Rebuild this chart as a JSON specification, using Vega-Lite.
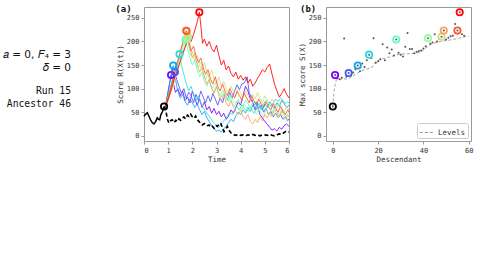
{
"$schema": "https://vega.github.io/schema/vega-lite/v6.json",
"padding": {"left": 2, "top": 4, "right": 2, "bottom": 2},
"background": "white",
"config": {
  "font": "DejaVu Sans Mono",
  "view": {"stroke": "#9a9a9a", "strokeWidth": 1},
  "axis": {"domain": false, "grid": false, "tickColor": "#9a9a9a", "tickSize": 3, "labelFont": "DejaVu Sans Mono", "labelFontSize": 7, "labelColor": "#333", "labelPadding": 2, "labelOverlap": false, "titleFont": "DejaVu Sans Mono", "titleFontSize": 7.5, "titleFontWeight": "normal", "titleColor": "#333", "titlePadding": 2}
},
"datasets": {
  "info": [
    {"block": 1, "text": ["𝑎 = 0, 𝐹₄ = 3", "𝛿 = 0"]},
    {"block": 2, "text": ["Run 15", "Ancestor 46"]}
  ],
  "labA": [{"text": "(a)"}],
  "labB": [{"text": "(b)"}],
  "anc": [
    {"seg":"solid","t":0,"v":41},{"seg":"solid","t":0.05,"v":45},{"seg":"solid","t":0.14,"v":49},{"seg":"solid","t":0.2,"v":42},{"seg":"solid","t":0.27,"v":34},{"seg":"solid","t":0.34,"v":28},{"seg":"solid","t":0.41,"v":25},{"seg":"solid","t":0.48,"v":30},{"seg":"solid","t":0.55,"v":38},{"seg":"solid","t":0.6,"v":35},{"seg":"solid","t":0.65,"v":34},{"seg":"solid","t":0.7,"v":45},{"seg":"solid","t":0.77,"v":52},{"seg":"solid","t":0.83,"v":62},
    {"seg":"dash","t":0.83,"v":62},{"seg":"dash","t":0.9,"v":55},{"seg":"dash","t":0.97,"v":35},{"seg":"dash","t":1.03,"v":27},{"seg":"dash","t":1.1,"v":32},{"seg":"dash","t":1.17,"v":34},{"seg":"dash","t":1.25,"v":28},{"seg":"dash","t":1.32,"v":33},{"seg":"dash","t":1.38,"v":30},{"seg":"dash","t":1.45,"v":36},{"seg":"dash","t":1.52,"v":33},{"seg":"dash","t":1.58,"v":37},{"seg":"dash","t":1.65,"v":40},{"seg":"dash","t":1.72,"v":36},{"seg":"dash","t":1.8,"v":44},{"seg":"dash","t":1.86,"v":41},{"seg":"dash","t":1.93,"v":46},{"seg":"dash","t":2.0,"v":40},{"seg":"dash","t":2.07,"v":37},{"seg":"dash","t":2.14,"v":42},{"seg":"dash","t":2.21,"v":34},{"seg":"dash","t":2.28,"v":30},{"seg":"dash","t":2.35,"v":26},{"seg":"dash","t":2.41,"v":23},{"seg":"dash","t":2.5,"v":26},{"seg":"dash","t":2.6,"v":21},{"seg":"dash","t":2.69,"v":23},{"seg":"dash","t":2.76,"v":18},{"seg":"dash","t":2.83,"v":20},{"seg":"dash","t":2.9,"v":16},{"seg":"dash","t":2.97,"v":22},{"seg":"dash","t":3.03,"v":20},{"seg":"dash","t":3.1,"v":24},{"seg":"dash","t":3.17,"v":27},{"seg":"dash","t":3.24,"v":18},{"seg":"dash","t":3.31,"v":9},{"seg":"dash","t":3.38,"v":14},{"seg":"dash","t":3.45,"v":20},{"seg":"dash","t":3.52,"v":12},{"seg":"dash","t":3.6,"v":6},{"seg":"dash","t":3.66,"v":4},{"seg":"dash","t":3.72,"v":2},{"seg":"dash","t":3.8,"v":1},{"seg":"dash","t":3.9,"v":3},{"seg":"dash","t":4.0,"v":1},{"seg":"dash","t":4.1,"v":2},{"seg":"dash","t":4.2,"v":0},{"seg":"dash","t":4.3,"v":2},{"seg":"dash","t":4.4,"v":1},{"seg":"dash","t":4.5,"v":3},{"seg":"dash","t":4.6,"v":1},{"seg":"dash","t":4.7,"v":2},{"seg":"dash","t":4.8,"v":0},{"seg":"dash","t":4.9,"v":2},{"seg":"dash","t":5.0,"v":2},{"seg":"dash","t":5.1,"v":1},{"seg":"dash","t":5.2,"v":3},{"seg":"dash","t":5.3,"v":1},{"seg":"dash","t":5.4,"v":0},{"seg":"dash","t":5.5,"v":2},{"seg":"dash","t":5.6,"v":4},{"seg":"dash","t":5.7,"v":3},{"seg":"dash","t":5.8,"v":7},{"seg":"dash","t":5.86,"v":9},{"seg":"dash","t":5.93,"v":7},{"seg":"dash","t":6.0,"v":8}
  ],
  "traj": [
    {"s":"c0","t":0.85,"v":58},{"s":"c0","t":0.92,"v":72},{"s":"c0","t":1.0,"v":95},{"s":"c0","t":1.06,"v":112},{"s":"c0","t":1.12,"v":129},{"s":"c0","t":1.2,"v":115},{"s":"c0","t":1.3,"v":92},{"s":"c0","t":1.4,"v":100},{"s":"c0","t":1.5,"v":85},{"s":"c0","t":1.6,"v":95},{"s":"c0","t":1.7,"v":75},{"s":"c0","t":1.8,"v":82},{"s":"c0","t":1.9,"v":70},{"s":"c0","t":2.0,"v":95},{"s":"c0","t":2.1,"v":80},{"s":"c0","t":2.2,"v":65},{"s":"c0","t":2.3,"v":78},{"s":"c0","t":2.4,"v":60},{"s":"c0","t":2.5,"v":72},{"s":"c0","t":2.6,"v":55},{"s":"c0","t":2.7,"v":62},{"s":"c0","t":2.8,"v":48},{"s":"c0","t":2.9,"v":58},{"s":"c0","t":3.0,"v":45},{"s":"c0","t":3.1,"v":52},{"s":"c0","t":3.2,"v":40},{"s":"c0","t":3.3,"v":48},{"s":"c0","t":3.4,"v":35},{"s":"c0","t":3.5,"v":42},{"s":"c0","t":3.6,"v":55},{"s":"c0","t":3.7,"v":48},{"s":"c0","t":3.8,"v":60},{"s":"c0","t":3.9,"v":72},{"s":"c0","t":4.0,"v":65},{"s":"c0","t":4.1,"v":85},{"s":"c0","t":4.2,"v":105},{"s":"c0","t":4.3,"v":95},{"s":"c0","t":4.4,"v":78},{"s":"c0","t":4.5,"v":70},{"s":"c0","t":4.6,"v":55},{"s":"c0","t":4.7,"v":62},{"s":"c0","t":4.8,"v":45},{"s":"c0","t":4.9,"v":38},{"s":"c0","t":5.0,"v":30},{"s":"c0","t":5.1,"v":25},{"s":"c0","t":5.2,"v":18},{"s":"c0","t":5.3,"v":12},{"s":"c0","t":5.4,"v":15},{"s":"c0","t":5.5,"v":10},{"s":"c0","t":5.6,"v":18},{"s":"c0","t":5.7,"v":14},{"s":"c0","t":5.8,"v":22},{"s":"c0","t":5.9,"v":25},{"s":"c0","t":6.0,"v":20},
    {"s":"c1","t":0.85,"v":58},{"s":"c1","t":0.95,"v":70},{"s":"c1","t":1.05,"v":88},{"s":"c1","t":1.12,"v":105},{"s":"c1","t":1.2,"v":122},{"s":"c1","t":1.28,"v":135},{"s":"c1","t":1.35,"v":120},{"s":"c1","t":1.45,"v":105},{"s":"c1","t":1.55,"v":90},{"s":"c1","t":1.65,"v":100},{"s":"c1","t":1.75,"v":80},{"s":"c1","t":1.85,"v":92},{"s":"c1","t":1.95,"v":85},{"s":"c1","t":2.05,"v":70},{"s":"c1","t":2.15,"v":88},{"s":"c1","t":2.25,"v":75},{"s":"c1","t":2.35,"v":95},{"s":"c1","t":2.45,"v":82},{"s":"c1","t":2.55,"v":70},{"s":"c1","t":2.65,"v":85},{"s":"c1","t":2.75,"v":72},{"s":"c1","t":2.85,"v":90},{"s":"c1","t":2.95,"v":78},{"s":"c1","t":3.05,"v":65},{"s":"c1","t":3.15,"v":80},{"s":"c1","t":3.25,"v":70},{"s":"c1","t":3.35,"v":88},{"s":"c1","t":3.45,"v":75},{"s":"c1","t":3.55,"v":92},{"s":"c1","t":3.65,"v":80},{"s":"c1","t":3.75,"v":95},{"s":"c1","t":3.85,"v":108},{"s":"c1","t":3.95,"v":98},{"s":"c1","t":4.05,"v":110},{"s":"c1","t":4.15,"v":112},{"s":"c1","t":4.27,"v":125},{"s":"c1","t":4.35,"v":92},{"s":"c1","t":4.45,"v":80},{"s":"c1","t":4.55,"v":65},{"s":"c1","t":4.65,"v":72},{"s":"c1","t":4.75,"v":58},{"s":"c1","t":4.85,"v":65},{"s":"c1","t":4.95,"v":50},{"s":"c1","t":5.05,"v":58},{"s":"c1","t":5.15,"v":45},{"s":"c1","t":5.25,"v":52},{"s":"c1","t":5.35,"v":40},{"s":"c1","t":5.45,"v":48},{"s":"c1","t":5.55,"v":38},{"s":"c1","t":5.65,"v":45},{"s":"c1","t":5.75,"v":35},{"s":"c1","t":5.85,"v":40},{"s":"c1","t":5.95,"v":32},{"s":"c1","t":6.0,"v":36},
    {"s":"c2","t":0.85,"v":58},{"s":"c2","t":0.95,"v":78},{"s":"c2","t":1.03,"v":100},{"s":"c2","t":1.1,"v":125},{"s":"c2","t":1.16,"v":138},{"s":"c2","t":1.21,"v":149},{"s":"c2","t":1.3,"v":120},{"s":"c2","t":1.4,"v":95},{"s":"c2","t":1.5,"v":80},{"s":"c2","t":1.6,"v":88},{"s":"c2","t":1.7,"v":72},{"s":"c2","t":1.8,"v":65},{"s":"c2","t":1.9,"v":78},{"s":"c2","t":2.0,"v":70},{"s":"c2","t":2.1,"v":60},{"s":"c2","t":2.2,"v":68},{"s":"c2","t":2.3,"v":55},{"s":"c2","t":2.4,"v":45},{"s":"c2","t":2.5,"v":52},{"s":"c2","t":2.6,"v":38},{"s":"c2","t":2.7,"v":30},{"s":"c2","t":2.8,"v":22},{"s":"c2","t":2.9,"v":15},{"s":"c2","t":3.0,"v":10},{"s":"c2","t":3.1,"v":12},{"s":"c2","t":3.2,"v":8},{"s":"c2","t":3.3,"v":15},{"s":"c2","t":3.4,"v":20},{"s":"c2","t":3.5,"v":28},{"s":"c2","t":3.6,"v":35},{"s":"c2","t":3.7,"v":30},{"s":"c2","t":3.8,"v":42},{"s":"c2","t":3.9,"v":50},{"s":"c2","t":4.0,"v":45},{"s":"c2","t":4.1,"v":55},{"s":"c2","t":4.2,"v":48},{"s":"c2","t":4.3,"v":60},{"s":"c2","t":4.4,"v":52},{"s":"c2","t":4.5,"v":65},{"s":"c2","t":4.6,"v":58},{"s":"c2","t":4.7,"v":70},{"s":"c2","t":4.8,"v":62},{"s":"c2","t":4.9,"v":55},{"s":"c2","t":5.0,"v":68},{"s":"c2","t":5.1,"v":60},{"s":"c2","t":5.2,"v":72},{"s":"c2","t":5.3,"v":65},{"s":"c2","t":5.4,"v":58},{"s":"c2","t":5.5,"v":70},{"s":"c2","t":5.6,"v":62},{"s":"c2","t":5.7,"v":75},{"s":"c2","t":5.8,"v":68},{"s":"c2","t":5.9,"v":60},{"s":"c2","t":6.0,"v":65},
    {"s":"c3","t":0.85,"v":58},{"s":"c3","t":0.95,"v":72},{"s":"c3","t":1.05,"v":95},{"s":"c3","t":1.15,"v":115},{"s":"c3","t":1.25,"v":135},{"s":"c3","t":1.32,"v":150},{"s":"c3","t":1.4,"v":160},{"s":"c3","t":1.47,"v":173},{"s":"c3","t":1.55,"v":150},{"s":"c3","t":1.65,"v":130},{"s":"c3","t":1.75,"v":110},{"s":"c3","t":1.85,"v":95},{"s":"c3","t":1.95,"v":105},{"s":"c3","t":2.05,"v":88},{"s":"c3","t":2.15,"v":75},{"s":"c3","t":2.25,"v":85},{"s":"c3","t":2.35,"v":70},{"s":"c3","t":2.45,"v":60},{"s":"c3","t":2.55,"v":52},{"s":"c3","t":2.65,"v":45},{"s":"c3","t":2.75,"v":38},{"s":"c3","t":2.85,"v":30},{"s":"c3","t":2.95,"v":25},{"s":"c3","t":3.05,"v":18},{"s":"c3","t":3.15,"v":20},{"s":"c3","t":3.25,"v":28},{"s":"c3","t":3.35,"v":35},{"s":"c3","t":3.45,"v":42},{"s":"c3","t":3.55,"v":50},{"s":"c3","t":3.65,"v":45},{"s":"c3","t":3.75,"v":55},{"s":"c3","t":3.85,"v":62},{"s":"c3","t":3.95,"v":55},{"s":"c3","t":4.05,"v":65},{"s":"c3","t":4.15,"v":58},{"s":"c3","t":4.25,"v":52},{"s":"c3","t":4.35,"v":60},{"s":"c3","t":4.45,"v":55},{"s":"c3","t":4.55,"v":48},{"s":"c3","t":4.65,"v":55},{"s":"c3","t":4.75,"v":62},{"s":"c3","t":4.85,"v":55},{"s":"c3","t":4.95,"v":68},{"s":"c3","t":5.05,"v":75},{"s":"c3","t":5.15,"v":70},{"s":"c3","t":5.25,"v":62},{"s":"c3","t":5.35,"v":70},{"s":"c3","t":5.45,"v":78},{"s":"c3","t":5.55,"v":72},{"s":"c3","t":5.65,"v":80},{"s":"c3","t":5.75,"v":75},{"s":"c3","t":5.85,"v":68},{"s":"c3","t":5.95,"v":72},{"s":"c3","t":6.0,"v":70},
    {"s":"c4","t":0.85,"v":58},{"s":"c4","t":0.95,"v":70},{"s":"c4","t":1.05,"v":88},{"s":"c4","t":1.15,"v":105},{"s":"c4","t":1.25,"v":120},{"s":"c4","t":1.35,"v":140},{"s":"c4","t":1.45,"v":158},{"s":"c4","t":1.55,"v":175},{"s":"c4","t":1.62,"v":190},{"s":"c4","t":1.72,"v":204},{"s":"c4","t":1.8,"v":185},{"s":"c4","t":1.9,"v":165},{"s":"c4","t":2.0,"v":150},{"s":"c4","t":2.1,"v":160},{"s":"c4","t":2.2,"v":140},{"s":"c4","t":2.3,"v":125},{"s":"c4","t":2.4,"v":135},{"s":"c4","t":2.5,"v":115},{"s":"c4","t":2.6,"v":105},{"s":"c4","t":2.7,"v":118},{"s":"c4","t":2.8,"v":100},{"s":"c4","t":2.9,"v":92},{"s":"c4","t":3.0,"v":105},{"s":"c4","t":3.1,"v":90},{"s":"c4","t":3.2,"v":82},{"s":"c4","t":3.3,"v":95},{"s":"c4","t":3.4,"v":80},{"s":"c4","t":3.5,"v":72},{"s":"c4","t":3.6,"v":85},{"s":"c4","t":3.7,"v":75},{"s":"c4","t":3.8,"v":68},{"s":"c4","t":3.9,"v":78},{"s":"c4","t":4.0,"v":70},{"s":"c4","t":4.1,"v":62},{"s":"c4","t":4.2,"v":75},{"s":"c4","t":4.3,"v":68},{"s":"c4","t":4.4,"v":60},{"s":"c4","t":4.5,"v":72},{"s":"c4","t":4.6,"v":65},{"s":"c4","t":4.7,"v":58},{"s":"c4","t":4.8,"v":70},{"s":"c4","t":4.9,"v":62},{"s":"c4","t":5.0,"v":55},{"s":"c4","t":5.1,"v":65},{"s":"c4","t":5.2,"v":58},{"s":"c4","t":5.3,"v":50},{"s":"c4","t":5.4,"v":60},{"s":"c4","t":5.5,"v":52},{"s":"c4","t":5.6,"v":45},{"s":"c4","t":5.7,"v":55},{"s":"c4","t":5.8,"v":48},{"s":"c4","t":5.9,"v":42},{"s":"c4","t":6.0,"v":50},
    {"s":"c5","t":0.85,"v":58},{"s":"c5","t":0.95,"v":68},{"s":"c5","t":1.05,"v":85},{"s":"c5","t":1.15,"v":100},{"s":"c5","t":1.25,"v":118},{"s":"c5","t":1.35,"v":135},{"s":"c5","t":1.45,"v":150},{"s":"c5","t":1.55,"v":168},{"s":"c5","t":1.65,"v":185},{"s":"c5","t":1.72,"v":198},{"s":"c5","t":1.78,"v":207},{"s":"c5","t":1.85,"v":190},{"s":"c5","t":1.95,"v":170},{"s":"c5","t":2.05,"v":180},{"s":"c5","t":2.15,"v":160},{"s":"c5","t":2.25,"v":145},{"s":"c5","t":2.35,"v":155},{"s":"c5","t":2.45,"v":135},{"s":"c5","t":2.55,"v":120},{"s":"c5","t":2.65,"v":130},{"s":"c5","t":2.75,"v":110},{"s":"c5","t":2.85,"v":100},{"s":"c5","t":2.95,"v":112},{"s":"c5","t":3.05,"v":95},{"s":"c5","t":3.15,"v":85},{"s":"c5","t":3.25,"v":98},{"s":"c5","t":3.35,"v":88},{"s":"c5","t":3.45,"v":75},{"s":"c5","t":3.55,"v":85},{"s":"c5","t":3.65,"v":70},{"s":"c5","t":3.75,"v":62},{"s":"c5","t":3.85,"v":75},{"s":"c5","t":3.95,"v":65},{"s":"c5","t":4.05,"v":55},{"s":"c5","t":4.15,"v":68},{"s":"c5","t":4.25,"v":60},{"s":"c5","t":4.35,"v":50},{"s":"c5","t":4.45,"v":62},{"s":"c5","t":4.55,"v":55},{"s":"c5","t":4.65,"v":45},{"s":"c5","t":4.75,"v":58},{"s":"c5","t":4.85,"v":50},{"s":"c5","t":4.95,"v":42},{"s":"c5","t":5.05,"v":55},{"s":"c5","t":5.15,"v":48},{"s":"c5","t":5.25,"v":40},{"s":"c5","t":5.35,"v":52},{"s":"c5","t":5.45,"v":45},{"s":"c5","t":5.55,"v":38},{"s":"c5","t":5.65,"v":50},{"s":"c5","t":5.75,"v":42},{"s":"c5","t":5.85,"v":35},{"s":"c5","t":5.95,"v":45},{"s":"c5","t":6.0,"v":40},
    {"s":"c6","t":0.85,"v":58},{"s":"c6","t":0.95,"v":66},{"s":"c6","t":1.05,"v":82},{"s":"c6","t":1.15,"v":98},{"s":"c6","t":1.25,"v":112},{"s":"c6","t":1.35,"v":130},{"s":"c6","t":1.45,"v":148},{"s":"c6","t":1.55,"v":165},{"s":"c6","t":1.65,"v":182},{"s":"c6","t":1.75,"v":198},{"s":"c6","t":1.82,"v":210},{"s":"c6","t":1.9,"v":195},{"s":"c6","t":2.0,"v":175},{"s":"c6","t":2.1,"v":160},{"s":"c6","t":2.2,"v":170},{"s":"c6","t":2.3,"v":150},{"s":"c6","t":2.4,"v":140},{"s":"c6","t":2.5,"v":155},{"s":"c6","t":2.6,"v":135},{"s":"c6","t":2.7,"v":125},{"s":"c6","t":2.8,"v":140},{"s":"c6","t":2.9,"v":120},{"s":"c6","t":3.0,"v":110},{"s":"c6","t":3.1,"v":125},{"s":"c6","t":3.2,"v":105},{"s":"c6","t":3.3,"v":115},{"s":"c6","t":3.4,"v":100},{"s":"c6","t":3.5,"v":90},{"s":"c6","t":3.6,"v":105},{"s":"c6","t":3.7,"v":95},{"s":"c6","t":3.8,"v":85},{"s":"c6","t":3.9,"v":100},{"s":"c6","t":4.0,"v":90},{"s":"c6","t":4.1,"v":80},{"s":"c6","t":4.2,"v":95},{"s":"c6","t":4.3,"v":85},{"s":"c6","t":4.4,"v":75},{"s":"c6","t":4.5,"v":88},{"s":"c6","t":4.6,"v":78},{"s":"c6","t":4.7,"v":92},{"s":"c6","t":4.8,"v":80},{"s":"c6","t":4.9,"v":70},{"s":"c6","t":5.0,"v":85},{"s":"c6","t":5.1,"v":75},{"s":"c6","t":5.2,"v":65},{"s":"c6","t":5.3,"v":78},{"s":"c6","t":5.4,"v":68},{"s":"c6","t":5.5,"v":58},{"s":"c6","t":5.6,"v":70},{"s":"c6","t":5.7,"v":60},{"s":"c6","t":5.8,"v":50},{"s":"c6","t":5.9,"v":62},{"s":"c6","t":6.0,"v":55},
    {"s":"c7","t":0.85,"v":58},{"s":"c7","t":0.95,"v":74},{"s":"c7","t":1.05,"v":90},{"s":"c7","t":1.15,"v":108},{"s":"c7","t":1.25,"v":128},{"s":"c7","t":1.35,"v":145},{"s":"c7","t":1.45,"v":165},{"s":"c7","t":1.55,"v":185},{"s":"c7","t":1.65,"v":205},{"s":"c7","t":1.74,"v":223},{"s":"c7","t":1.8,"v":205},{"s":"c7","t":1.9,"v":185},{"s":"c7","t":2.0,"v":165},{"s":"c7","t":2.1,"v":175},{"s":"c7","t":2.2,"v":150},{"s":"c7","t":2.3,"v":135},{"s":"c7","t":2.4,"v":145},{"s":"c7","t":2.5,"v":125},{"s":"c7","t":2.6,"v":110},{"s":"c7","t":2.7,"v":120},{"s":"c7","t":2.8,"v":100},{"s":"c7","t":2.9,"v":90},{"s":"c7","t":3.0,"v":105},{"s":"c7","t":3.1,"v":85},{"s":"c7","t":3.2,"v":75},{"s":"c7","t":3.3,"v":88},{"s":"c7","t":3.4,"v":70},{"s":"c7","t":3.5,"v":62},{"s":"c7","t":3.6,"v":75},{"s":"c7","t":3.7,"v":60},{"s":"c7","t":3.8,"v":52},{"s":"c7","t":3.9,"v":45},{"s":"c7","t":4.0,"v":55},{"s":"c7","t":4.1,"v":40},{"s":"c7","t":4.2,"v":35},{"s":"c7","t":4.3,"v":45},{"s":"c7","t":4.4,"v":30},{"s":"c7","t":4.5,"v":25},{"s":"c7","t":4.6,"v":35},{"s":"c7","t":4.7,"v":28},{"s":"c7","t":4.8,"v":40},{"s":"c7","t":4.9,"v":32},{"s":"c7","t":5.0,"v":45},{"s":"c7","t":5.1,"v":38},{"s":"c7","t":5.2,"v":50},{"s":"c7","t":5.3,"v":42},{"s":"c7","t":5.4,"v":55},{"s":"c7","t":5.5,"v":48},{"s":"c7","t":5.6,"v":40},{"s":"c7","t":5.7,"v":52},{"s":"c7","t":5.8,"v":45},{"s":"c7","t":5.9,"v":38},{"s":"c7","t":6.0,"v":42},
    {"s":"c8","t":0.85,"v":58},{"s":"c8","t":0.95,"v":72},{"s":"c8","t":1.05,"v":92},{"s":"c8","t":1.15,"v":110},{"s":"c8","t":1.25,"v":130},{"s":"c8","t":1.35,"v":150},{"s":"c8","t":1.45,"v":168},{"s":"c8","t":1.55,"v":188},{"s":"c8","t":1.65,"v":208},{"s":"c8","t":1.76,"v":222},{"s":"c8","t":1.85,"v":200},{"s":"c8","t":1.95,"v":180},{"s":"c8","t":2.05,"v":190},{"s":"c8","t":2.15,"v":170},{"s":"c8","t":2.25,"v":155},{"s":"c8","t":2.35,"v":165},{"s":"c8","t":2.45,"v":145},{"s":"c8","t":2.55,"v":130},{"s":"c8","t":2.65,"v":140},{"s":"c8","t":2.75,"v":120},{"s":"c8","t":2.85,"v":110},{"s":"c8","t":2.95,"v":125},{"s":"c8","t":3.05,"v":105},{"s":"c8","t":3.15,"v":95},{"s":"c8","t":3.25,"v":110},{"s":"c8","t":3.35,"v":95},{"s":"c8","t":3.45,"v":85},{"s":"c8","t":3.55,"v":100},{"s":"c8","t":3.65,"v":90},{"s":"c8","t":3.75,"v":80},{"s":"c8","t":3.85,"v":95},{"s":"c8","t":3.95,"v":85},{"s":"c8","t":4.05,"v":75},{"s":"c8","t":4.15,"v":90},{"s":"c8","t":4.25,"v":80},{"s":"c8","t":4.35,"v":70},{"s":"c8","t":4.45,"v":85},{"s":"c8","t":4.55,"v":75},{"s":"c8","t":4.65,"v":65},{"s":"c8","t":4.75,"v":78},{"s":"c8","t":4.85,"v":68},{"s":"c8","t":4.95,"v":60},{"s":"c8","t":5.05,"v":72},{"s":"c8","t":5.15,"v":62},{"s":"c8","t":5.25,"v":55},{"s":"c8","t":5.35,"v":68},{"s":"c8","t":5.45,"v":58},{"s":"c8","t":5.55,"v":50},{"s":"c8","t":5.65,"v":62},{"s":"c8","t":5.75,"v":52},{"s":"c8","t":5.85,"v":45},{"s":"c8","t":5.95,"v":55},{"s":"c8","t":6.0,"v":50},
    {"s":"c9","t":0.85,"v":58},{"s":"c9","t":0.95,"v":70},{"s":"c9","t":1.05,"v":85},{"s":"c9","t":1.15,"v":102},{"s":"c9","t":1.25,"v":120},{"s":"c9","t":1.35,"v":135},{"s":"c9","t":1.45,"v":150},{"s":"c9","t":1.55,"v":165},{"s":"c9","t":1.65,"v":180},{"s":"c9","t":1.75,"v":195},{"s":"c9","t":1.85,"v":205},{"s":"c9","t":1.95,"v":200},{"s":"c9","t":2.05,"v":215},{"s":"c9","t":2.15,"v":232},{"s":"c9","t":2.22,"v":245},{"s":"c9","t":2.29,"v":262},{"s":"c9","t":2.35,"v":235},{"s":"c9","t":2.42,"v":196},{"s":"c9","t":2.5,"v":205},{"s":"c9","t":2.6,"v":190},{"s":"c9","t":2.7,"v":200},{"s":"c9","t":2.8,"v":185},{"s":"c9","t":2.9,"v":178},{"s":"c9","t":3.0,"v":192},{"s":"c9","t":3.1,"v":170},{"s":"c9","t":3.2,"v":150},{"s":"c9","t":3.3,"v":160},{"s":"c9","t":3.4,"v":140},{"s":"c9","t":3.5,"v":148},{"s":"c9","t":3.6,"v":132},{"s":"c9","t":3.7,"v":125},{"s":"c9","t":3.8,"v":135},{"s":"c9","t":3.9,"v":120},{"s":"c9","t":4.0,"v":128},{"s":"c9","t":4.1,"v":118},{"s":"c9","t":4.2,"v":125},{"s":"c9","t":4.3,"v":112},{"s":"c9","t":4.4,"v":120},{"s":"c9","t":4.5,"v":105},{"s":"c9","t":4.6,"v":112},{"s":"c9","t":4.7,"v":122},{"s":"c9","t":4.8,"v":130},{"s":"c9","t":4.9,"v":140},{"s":"c9","t":5.0,"v":135},{"s":"c9","t":5.1,"v":145},{"s":"c9","t":5.2,"v":152},{"s":"c9","t":5.3,"v":130},{"s":"c9","t":5.4,"v":110},{"s":"c9","t":5.5,"v":95},{"s":"c9","t":5.6,"v":82},{"s":"c9","t":5.7,"v":90},{"s":"c9","t":5.8,"v":100},{"s":"c9","t":5.9,"v":88},{"s":"c9","t":6.0,"v":80}
  ],
  "peaks": [
    {"s":"anc","t":0.83,"v":62},{"s":"c0","t":1.12,"v":129},{"s":"c1","t":1.28,"v":135},{"s":"c2","t":1.21,"v":149},{"s":"c3","t":1.47,"v":173},{"s":"c4","t":1.72,"v":204},{"s":"c5","t":1.78,"v":207},{"s":"c6","t":1.82,"v":210},{"s":"c7","t":1.74,"v":223},{"s":"c8","t":1.76,"v":222},{"s":"c9","t":2.29,"v":262}
  ],
  "levels": [
    {"d":0,"m":62},{"d":0.3,"m":80},{"d":0.6,"m":96},{"d":1,"m":108},{"d":1.5,"m":117},{"d":2,"m":121},{"d":4,"m":120},{"d":7,"m":121},{"d":8,"m":124},{"d":9.6,"m":129},{"d":12,"m":136},{"d":14,"m":140},{"d":17.3,"m":145},{"d":18.7,"m":156},{"d":21.7,"m":163},{"d":25,"m":167},{"d":29.7,"m":173},{"d":33,"m":174},{"d":37,"m":175},{"d":39.3,"m":179},{"d":41,"m":186},{"d":43,"m":193},{"d":45,"m":197},{"d":47.4,"m":200},{"d":51.8,"m":203},{"d":55,"m":206},{"d":58.3,"m":210},{"d":60,"m":211}
  ],
  "desc": [
    {"d":0,"m":62},{"d":1,"m":129},{"d":2,"m":122},{"d":3,"m":120},{"d":4,"m":123},{"d":5,"m":206},{"d":6,"m":125},{"d":7,"m":133},{"d":8,"m":128},{"d":9,"m":134},{"d":10,"m":141},{"d":11,"m":149},{"d":12,"m":137},{"d":13,"m":153},{"d":14,"m":146},{"d":15,"m":160},{"d":16,"m":172},{"d":17,"m":165},{"d":18,"m":207},{"d":19,"m":155},{"d":20,"m":158},{"d":21,"m":162},{"d":22,"m":194},{"d":23,"m":160},{"d":24,"m":187},{"d":25,"m":175},{"d":26,"m":183},{"d":27,"m":170},{"d":28,"m":204},{"d":29,"m":176},{"d":30,"m":172},{"d":31,"m":168},{"d":32,"m":189},{"d":33,"m":218},{"d":34,"m":184},{"d":35,"m":184},{"d":36,"m":175},{"d":37,"m":178},{"d":38,"m":180},{"d":39,"m":181},{"d":40,"m":185},{"d":41,"m":190},{"d":42,"m":207},{"d":43,"m":195},{"d":44,"m":198},{"d":45,"m":215},{"d":46,"m":200},{"d":47,"m":205},{"d":48,"m":210},{"d":49,"m":223},{"d":50,"m":204},{"d":51,"m":208},{"d":52,"m":211},{"d":53,"m":212},{"d":54,"m":237},{"d":55,"m":223},{"d":56,"m":262},{"d":57,"m":215},{"d":58,"m":212}
  ],
  "sel": [
    {"s":"anc","d":0,"m":62},{"s":"c0","d":1,"m":129},{"s":"c1","d":7,"m":133},{"s":"c2","d":11,"m":149},{"s":"c3","d":16,"m":172},{"s":"c4","d":28,"m":204},{"s":"c5","d":42,"m":207},{"s":"c6","d":48,"m":210},{"s":"c7","d":49,"m":223},{"s":"c8","d":55,"m":223},{"s":"c9","d":56,"m":262}
  ]
},
"resolve": {"scale": {"color": "independent", "strokeDash": "independent"}},
"bounds": "flush",
"spacing": 73,
"hconcat": [
  {
    "width": 67, "height": 134,
    "view": {"stroke": null},
    "data": {"name": "info"},
    "encoding": {
      "x": {"datum": 1, "type": "quantitative", "scale": {"domain": [0, 1]}, "axis": null},
      "y": {"field": "block", "type": "quantitative", "scale": {"domain": [-0.344, 3.376], "reverse": true}, "axis": null},
      "text": {"field": "text"}
    },
    "layer": [
      {"transform": [{"filter": "datum.block == 1"}], "mark": {"type": "text", "align": "right", "baseline": "middle", "font": "DejaVu Sans", "fontSize": 10.5, "lineHeight": 13, "color": "#111"}},
      {"transform": [{"filter": "datum.block == 2"}], "mark": {"type": "text", "align": "right", "baseline": "middle", "font": "DejaVu Sans Mono", "fontSize": 9.7, "lineHeight": 13, "color": "#111"}}
    ]
  },
  {
    "bounds": "flush",
    "spacing": 37,
    "resolve": {"scale": {"color": "independent", "strokeDash": "independent"}},
    "hconcat": [
      {
        "width": 145, "height": 134,
        "layer": [
          {
            "encoding": {
              "x": {"field": "t", "type": "quantitative", "scale": {"domain": [0, 6], "nice": false}, "axis": {"values": [0,1,2,3,4,5,6], "tickCount": 7, "title": "Time", "labelOverlap": false}},
              "y": {"field": "v", "type": "quantitative", "scale": {"domain": [-11, 273], "nice": false, "zero": false}, "axis": {"values": [0,50,100,150,200,250], "tickCount": 6, "title": "Score R(X(t))", "labelOverlap": false}}
            },
            "layer": [
              {
                "data": {"name": "traj"},
                "mark": {"type": "line", "strokeWidth": 1, "opacity": 0.85},
                "encoding": {
                  "color": {"field": "s", "type": "nominal", "scale": {"domain": ["anc","c0","c1","c2","c3","c4","c5","c6","c7","c8","c9"], "range": ["#000000","#8000ff","#4757fb","#0ea4f0","#2adddd","#64fbc3","#9cfba4","#d4dd80","#ffa457","#ff572c","#ff0000"]}, "legend": null}
                }
              },
              {
                "data": {"name": "anc"},
                "transform": [{"filter": "datum.seg == 'solid'"}],
                "mark": {"type": "line", "color": "#000", "strokeWidth": 1.5}
              },
              {
                "data": {"name": "anc"},
                "transform": [{"filter": "datum.seg == 'dash'"}],
                "mark": {"type": "line", "color": "#000", "strokeWidth": 1.6, "strokeDash": [4, 2.5]}
              },
              {
                "data": {"name": "peaks"},
                "mark": {"type": "point", "filled": false, "size": 40, "strokeWidth": 1.8, "opacity": 1},
                "encoding": {
                  "color": {"field": "s", "type": "nominal", "legend": null}
                }
              }
            ]
          },
          {
            "data": {"name": "labA"},
            "mark": {"type": "text", "font": "DejaVu Sans Mono", "fontSize": 9, "fontWeight": "bold", "color": "#111", "clip": false, "baseline": "middle"},
            "encoding": {"x": {"datum": -0.85, "type": "quantitative"}, "y": {"datum": 269, "type": "quantitative"}, "text": {"field": "text"}}
          }
        ]
      },
      {
        "width": 145, "height": 134,
        "layer": [
          {
            "encoding": {
              "x": {"field": "d", "type": "quantitative", "scale": {"domain": [-3, 61], "nice": false}, "axis": {"values": [0,20,40,60], "tickCount": 4, "title": "Descendant", "labelOverlap": false}},
              "y": {"field": "m", "type": "quantitative", "scale": {"domain": [-11, 273], "nice": false, "zero": false}, "axis": {"values": [0,50,100,150,200,250], "tickCount": 6, "title": "Max score S(X)", "labelOverlap": false}}
            },
            "layer": [
              {
                "data": {"name": "levels"},
                "mark": {"type": "line", "color": "#999", "strokeWidth": 0.9, "strokeDash": [3, 2]},
                "encoding": {
                  "strokeDash": {"datum": "Levels", "type": "nominal", "scale": {"range": [[3, 2]]}, "legend": {"title": null, "orient": "bottom-right", "offset": 3, "fillColor": "white", "strokeColor": "#ccc", "padding": 2, "cornerRadius": 2, "symbolType": "stroke", "symbolStrokeWidth": 1, "symbolStrokeColor": "#999", "symbolDash": [3, 2], "symbolSize": 180, "labelFont": "DejaVu Sans Mono", "labelFontSize": 7.5, "labelColor": "#333"}}
                }
              },
              {
                "data": {"name": "desc"},
                "mark": {"type": "circle", "size": 4, "color": "#555", "opacity": 1}
              },
              {
                "data": {"name": "sel"},
                "mark": {"type": "point", "filled": false, "size": 40, "strokeWidth": 1.8, "opacity": 1},
                "encoding": {
                  "color": {"field": "s", "type": "nominal", "scale": {"domain": ["anc","c0","c1","c2","c3","c4","c5","c6","c7","c8","c9"], "range": ["#000000","#8000ff","#4757fb","#0ea4f0","#2adddd","#64fbc3","#9cfba4","#d4dd80","#ffa457","#ff572c","#ff0000"]}, "legend": null}
                }
              }
            ]
          },
          {
            "data": {"name": "labB"},
            "mark": {"type": "text", "font": "DejaVu Sans Mono", "fontSize": 9, "fontWeight": "bold", "color": "#111", "clip": false, "baseline": "middle"},
            "encoding": {"x": {"datum": -10.9, "type": "quantitative"}, "y": {"datum": 269, "type": "quantitative"}, "text": {"field": "text"}}
          }
        ]
      }
    ]
  }
]
}
